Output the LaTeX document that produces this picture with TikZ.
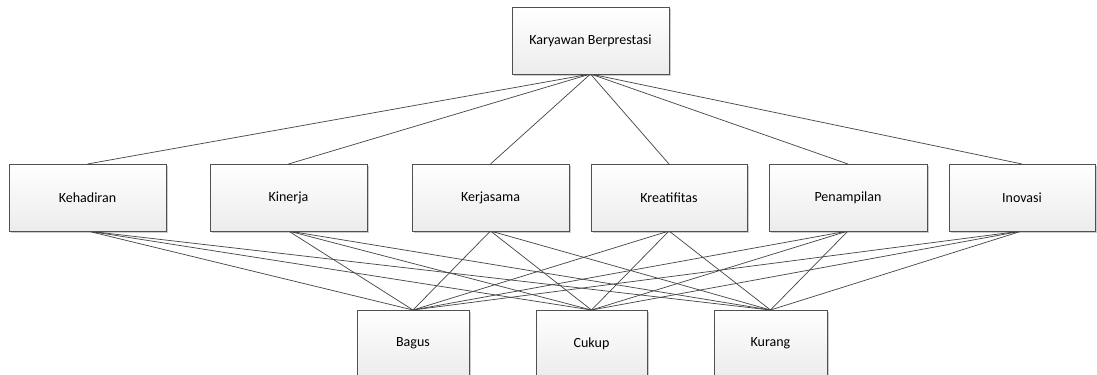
\documentclass[tikz,border=0pt]{standalone}
\usepackage{fontspec}
\setmainfont{Carlito}
\usetikzlibrary{shadows}
\definecolor{edge}{HTML}{505050}
\definecolor{boxtop}{HTML}{FFFFFF}
\definecolor{boxbot}{HTML}{ECECEC}
\tikzset{
  card/.style={draw=edge, line width=0.7pt, top color=boxtop, bottom color=boxbot,
    drop shadow={shadow xshift=1.2pt, shadow yshift=-1.2pt, opacity=0.2, fill=black},
    text=black},
  cardtext/.style={font=\fontsize{10.5}{12}\selectfont},
  link/.style={draw=edge!90!black, line width=0.55pt},
}
\newcommand{\cardbox}[6]{% name, x1, y1, x2, y2, label
  \path[card] (#2,#3) rectangle (#4,#5);
  \node[cardtext] (#1) at ({(#2+#4)/2},{(#3+#5)/2}) {#6};
}
\begin{document}
\begin{tikzpicture}[x=0.75pt,y=-0.75pt]
\useasboundingbox (0,0) rectangle (1097,375);
\begin{scope}
\clip (0,0) rectangle (1097,375);
% connectors are drawn first so the boxes sit on top of them
\coordinate (top-b) at (590.5,74);
\coordinate (keh-t) at (87.5,164);  \coordinate (keh-b) at (87.5,231);
\coordinate (kin-t) at (288.5,164); \coordinate (kin-b) at (288.5,231);
\coordinate (ker-t) at (490.5,164); \coordinate (ker-b) at (490.5,231);
\coordinate (kre-t) at (669,164);   \coordinate (kre-b) at (669,231);
\coordinate (pen-t) at (848,164);   \coordinate (pen-b) at (848,231);
\coordinate (ino-t) at (1022,164);  \coordinate (ino-b) at (1022,231);
\coordinate (bag-t) at (413,310);
\coordinate (cuk-t) at (591.5,310);
\coordinate (kur-t) at (770.5,310);
\foreach \m in {keh,kin,ker,kre,pen,ino}{
  \draw[link] (top-b) -- (\m-t);
  \foreach \r in {bag,cuk,kur}{
    \draw[link] (\m-b) -- (\r-t);
  }
}
% criteria and alternatives
\cardbox{top}{512}{7}{669}{74}{Karyawan Berprestasi}
\cardbox{keh}{9}{164}{166}{231}{Kehadiran}
\cardbox{kin}{210}{164}{367}{231}{Kinerja}
\cardbox{ker}{412}{164}{569}{231}{Kerjasama}
\cardbox{kre}{591}{164}{747}{231}{Kreatifitas}
\cardbox{pen}{769}{164}{927}{231}{Penampilan}
\cardbox{ino}{949}{164}{1095}{231}{Inovasi}
\cardbox{bag}{357}{310}{469}{377}{Bagus}
\cardbox{cuk}{536}{310}{647}{377}{Cukup}
\cardbox{kur}{714}{310}{827}{377}{Kurang}
\end{scope}
\end{tikzpicture}
\end{document}
